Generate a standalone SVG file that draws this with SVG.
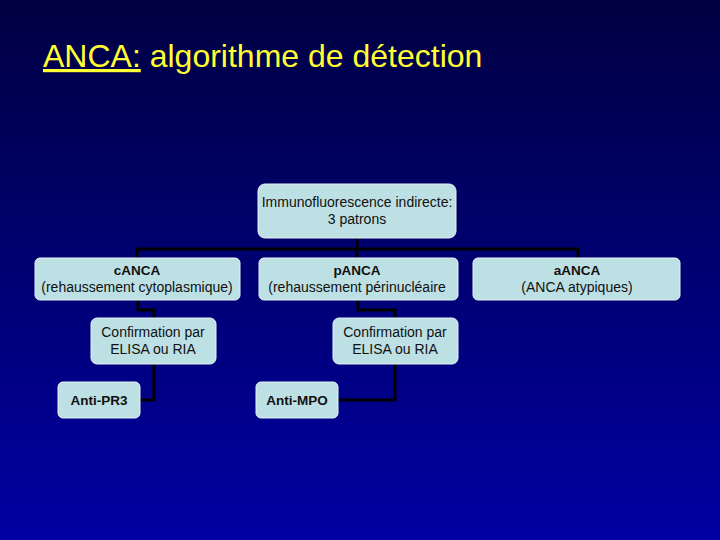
<svg xmlns="http://www.w3.org/2000/svg" width="720" height="540" viewBox="0 0 720 540">
<defs>
<linearGradient id="bg" x1="0" y1="0" x2="0" y2="1">
<stop offset="0" stop-color="#000042"/>
<stop offset="1" stop-color="#0000a2"/>
</linearGradient>
<style>
.box{fill:#bde0e4;stroke:#e6f2f4;stroke-width:1}
.t{font-family:"Liberation Sans",Arial,sans-serif;font-size:14px;fill:#111;text-anchor:middle}
.b{font-weight:bold;font-size:13.5px}
.c{fill:none;stroke:#000;stroke-width:3}
</style>
</defs>
<rect width="720" height="540" fill="url(#bg)"/>
<g id="title">
<text x="43" y="67" font-family="Liberation Sans,Arial,sans-serif" font-size="32" fill="#ffff33"><tspan text-decoration="underline">ANCA:</tspan> algorithme de détection</text>
</g>
<g id="connectors">
<path class="c" d="M357 238 V249 M137 258 V249 H578 V258 M357 249 V258"/>
<path class="c" d="M138 300 V310 H154 V318"/>
<path class="c" d="M358 300 V310 H395 V318"/>
<path class="c" d="M154 364 V400 H140"/>
<path class="c" d="M395 364 V400 H338"/>
</g>
<g id="n-if">
<rect class="box" x="258" y="184" width="198" height="54" rx="7"/>
<text class="t" x="357" y="207">Immunofluorescence indirecte:</text>
<text class="t" x="357" y="224">3 patrons</text>
</g>
<g id="n-canca">
<rect class="box" x="35" y="258" width="205" height="42" rx="5"/>
<text class="t b" x="137" y="275">cANCA</text>
<text class="t" x="137" y="292">(rehaussement cytoplasmique)</text>
</g>
<g id="n-panca">
<rect class="box" x="259" y="258" width="199" height="42" rx="5"/>
<text class="t b" x="357" y="275">pANCA</text>
<text class="t" x="357" y="292">(rehaussement périnucléaire</text>
</g>
<g id="n-aanca">
<rect class="box" x="473" y="258" width="207" height="42" rx="5"/>
<text class="t b" x="577" y="275">aANCA</text>
<text class="t" x="577" y="292">(ANCA atypiques)</text>
</g>
<g id="n-conf1">
<rect class="box" x="91" y="318" width="125" height="46" rx="6"/>
<text class="t" x="153" y="337">Confirmation par</text>
<text class="t" x="153" y="354">ELISA ou RIA</text>
</g>
<g id="n-conf2">
<rect class="box" x="333" y="318" width="125" height="46" rx="6"/>
<text class="t" x="395" y="337">Confirmation par</text>
<text class="t" x="395" y="354">ELISA ou RIA</text>
</g>
<g id="n-pr3">
<rect class="box" x="58" y="382" width="82" height="36" rx="5"/>
<text class="t b" x="99" y="405">Anti-PR3</text>
</g>
<g id="n-mpo">
<rect class="box" x="256" y="382" width="82" height="36" rx="5"/>
<text class="t b" x="297" y="405">Anti-MPO</text>
</g>
</svg>
